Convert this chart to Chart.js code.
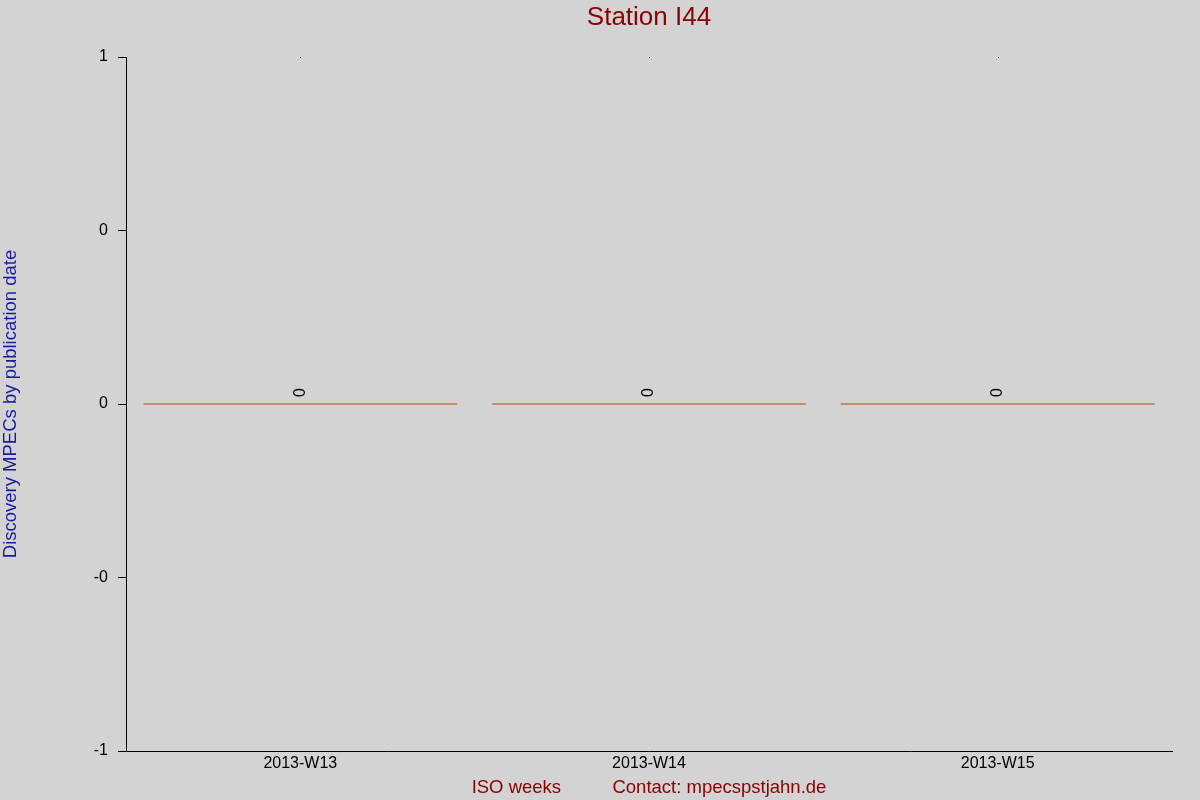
<!DOCTYPE html>
<html>
<head>
<meta charset="utf-8">
<title>Station I44</title>
<script src="https://cdn.jsdelivr.net/npm/chart.js@4/dist/chart.umd.min.js"></script>
<style>
    body { margin: 0; background: #d3d3d3; }
    canvas { display: block; }
</style>
</head>
<body>
<canvas id="grafico" width="1200" height="800"></canvas>
<script>
// Datos del gráfico
const semanas = ['2013-W13', '2013-W14', '2013-W15'];
const descubrimientos = [0, 0, 0];
const etiquetasY = ['-1', '-0', '0', '0', '1'];

const fuente = '"Liberation Sans", Arial, sans-serif';

// Fondo gris, título y etiquetas de valor
const pluginFondo = {
    id: 'fondo',
    beforeDraw(chart) {
        const ctx = chart.ctx;
        ctx.save();
        ctx.fillStyle = '#d3d3d3';
        ctx.fillRect(0, 0, chart.width, chart.height);
        ctx.restore();
    },
    afterDatasetsDraw(chart) {
        const ctx = chart.ctx;
        const meta = chart.getDatasetMeta(0);
        const area = chart.chartArea;
        ctx.save();
        // título centrado sobre el área del gráfico
        ctx.font = '26px ' + fuente;
        ctx.fillStyle = '#8b0000';
        ctx.textAlign = 'center';
        ctx.textBaseline = 'middle';
        ctx.fillText('Station I44', (area.left + area.right) / 2, 18);

        meta.data.forEach((bar, i) => {
            // punto pequeño arriba
            ctx.fillStyle = '#000';
            ctx.fillRect(Math.round(bar.x), area.top, 1, 1);
            // etiqueta del valor, girada
            ctx.save();
            ctx.translate(bar.x, bar.y - 12);
            ctx.rotate(-Math.PI / 2);
            ctx.font = '16px ' + fuente;
            ctx.fillStyle = '#000';
            ctx.textAlign = 'center';
            ctx.textBaseline = 'middle';
            ctx.fillText(String(descubrimientos[i]), 0, 0);
            ctx.restore();
        });
        ctx.restore();
    }
};

new Chart(document.getElementById('grafico'), {
    type: 'bar',
    data: {
        labels: semanas,
        datasets: [{
            data: descubrimientos,
            backgroundColor: '#b8400f',
            borderWidth: 0,
            minBarLength: 1,
            barPercentage: 0.9,
            categoryPercentage: 1
        }]
    },
    options: {
        responsive: false,
        devicePixelRatio: 1,
        animation: false,
        layout: {
            padding: { top: 57, right: 28, bottom: 0, left: 0 }
        },
        plugins: {
            legend: { display: false },
            tooltip: { enabled: false },
            title: { display: false }
        },
        scales: {
            x: {
                grid: { display: true, drawOnChartArea: false, drawTicks: false },
                border: { display: true, color: '#000', width: 1 },
                ticks: {
                    color: '#000',
                    padding: 3,
                    font: { family: fuente, size: 16 }
                },
                title: {
                    display: true,
                    text: 'ISO weeks          Contact: mpecspstjahn.de',
                    color: '#8b0000',
                    font: { family: fuente, size: 18.5 },
                    padding: { top: 0, bottom: 1 }
                },
                afterFit(scale) { scale.height = 49; }
            },
            y: {
                min: -1,
                max: 1,
                grid: { display: true, drawOnChartArea: false, drawTicks: true, tickLength: 8, color: '#000' },
                border: { display: true, color: '#000', width: 1 },
                ticks: {
                    stepSize: 0.5,
                    padding: 10,
                    color: '#000',
                    font: { family: fuente, size: 16 },
                    callback: (v, i) => etiquetasY[i]
                },
                title: {
                    display: true,
                    text: 'Discovery MPECs by publication date',
                    color: '#1a1aa0',
                    font: { family: fuente, size: 18.5 },
                    padding: { top: 0, bottom: 0 }
                },
                afterFit(scale) { scale.width = 126; }
            }
        }
    },
    plugins: [pluginFondo]
});
</script>
</body>
</html>
